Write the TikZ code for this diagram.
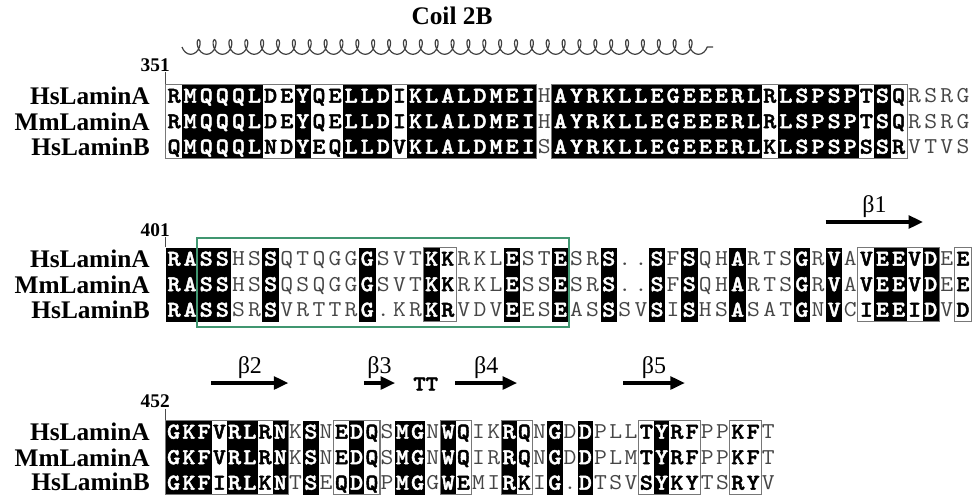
\documentclass[tikz,border=0pt]{standalone}
\usepackage{fontspec}
\setmainfont{Liberation Serif}
\newfontfamily\seqrm{Latin Modern Mono}[FakeStretch=1.1]
\newfontfamily\seqbf{lmmonolt10-bold.otf}[FakeBold=2, FakeStretch=1.1]
\usetikzlibrary{arrows.meta,decorations.pathmorphing}

\definecolor{boxgreen}{RGB}{64,150,112}
\definecolor{framegray}{RGB}{120,120,120}
\definecolor{resgray}{RGB}{70,70,70}

\tikzset{
  title/.style={font=\fontsize{19}{20}\selectfont\bfseries, inner sep=0pt},
  seqname/.style={anchor=east, font=\fontsize{19}{20}\selectfont\bfseries, inner sep=0pt},
  resnum/.style={anchor=base east, font=\fontsize{14.5}{15}\selectfont\bfseries, inner sep=0pt},
  cell b/.style={fill=black, draw=none, inner sep=0pt, minimum height=55.5pt},
  cell w/.style={draw=none, inner sep=0pt, minimum height=55.5pt},
  cell p/.style={draw=none, inner sep=0pt, minimum height=55.5pt},
  res/.style={inner sep=0pt, text height=10pt, text depth=0pt, anchor=center},
  res b/.style={res, text=white, font=\fontsize{17}{18}\seqbf},
  res w/.style={res, text=black, font=\fontsize{17}{18}\seqbf},
  res p/.style={res, text=resgray, font=\fontsize{17}{18}\seqrm},
  frame/.style={draw=framegray, line width=0.8pt},
  tick/.style={draw=black!70, line width=0.9pt},
  greenbox/.style={draw=boxgreen, line width=1.5pt},
  helix/.style={draw=black!75, line width=0.9pt, decorate,
    decoration={coil, mirror, amplitude=5.5pt, segment length=11.9pt, aspect=0.65,
      pre length=0pt, post length=0pt}},
  strand/.style={line width=3.2pt, -{Triangle[length=11pt,width=9.5pt]}},
  sslabel/.style={anchor=base, inner sep=0pt, font=\fontsize{18}{18}\selectfont},
  turn/.style={inner sep=0pt, font=\fontsize{16}{16}\seqbf}
}

% #1 first row y, #2 column width, #3 block tag, #4 columns type/A/M/B
\newcommand{\seqblock}[4]{%
  \foreach \t/\a/\m/\b [count=\i] in {#4} {
    \pgfmathsetmacro{\cx}{166+(\i-0.5)*#2}
    \node[cell \t, minimum width=#2*0.75pt+0.3pt] (#3-\i) at (\cx,#1+25.5) {};
    \node[res \t] (#3-\i-hsa) at (\cx,#1) {\a};
    \node[res \t] (#3-\i-mma) at (\cx,#1+25.5) {\m};
    \node[res \t] (#3-\i-hsb) at (\cx,#1+51) {\b};
  }
}

\begin{document}
\begin{tikzpicture}[x=0.75pt,y=-0.75pt]
\useasboundingbox (0,0) rectangle (973,497);

\node[title] (coil) at (452,16) {Coil 2B};
\draw[helix] (182,47) -- (713,47);

% residues 351-400
\seqblock{96}{16.1}{b1}{w/R/R/Q, b/M/M/M, b/Q/Q/Q, b/Q/Q/Q, b/Q/Q/Q, b/L/L/L, w/D/D/N, w/E/E/D, b/Y/Y/Y, w/Q/Q/E,
  w/E/E/Q, b/L/L/L, b/L/L/L, b/D/D/D, w/I/I/V, b/K/K/K, b/L/L/L, b/A/A/A, b/L/L/L, b/D/D/D,
  b/M/M/M, b/E/E/E, b/I/I/I, p/H/H/S, b/A/A/A, b/Y/Y/Y, b/R/R/R, b/K/K/K, b/L/L/L, b/L/L/L,
  b/E/E/E, b/G/G/G, b/E/E/E, b/E/E/E, b/E/E/E, b/R/R/R, b/L/L/L, w/R/R/K, b/L/L/L, b/S/S/S,
  b/P/P/P, b/S/S/S, b/P/P/P, w/T/T/S, b/S/S/S, w/Q/Q/R, p/R/R/V, p/S/S/T, p/R/R/V, p/G/G/S}
\draw[frame] (b1-1.north west) rectangle (b1-23.south east);
\draw[frame] (b1-25.north west) rectangle (b1-46.south east);
\node[resnum] (n351) at (170,71) {351};
\draw[tick] (b1-1.north west) -- ++(0,-12);
\node[seqname] (hsa1) at (150,96) {HsLaminA};
\node[seqname] (mma1) at (150,121.5) {MmLaminA};
\node[seqname] (hsb1) at (150,147) {HsLaminB};

% residues 401-
\seqblock{259}{16.1}{b2}{b/R/R/R, b/A/A/A, b/S/S/S, b/S/S/S, p/H/H/S, p/S/S/R, b/S/S/S, p/Q/Q/V, p/T/S/R, p/Q/Q/T,
  p/G/G/T, p/G/G/R, b/G/G/G, p/S/S/., p/V/V/K, p/T/T/R, b/K/K/K, w/K/K/R, p/R/R/V, p/K/K/D,
  p/L/L/V, b/E/E/E, p/S/S/E, p/T/S/S, b/E/E/E, p/S/S/A, p/R/R/S, b/S/S/S, p/./ ./S, p/./ ./V,
  b/S/S/S, p/F/F/I, b/S/S/S, p/Q/Q/H, p/H/H/S, b/A/A/A, p/R/R/S, p/T/T/A, p/S/S/T, b/G/G/G,
  p/R/R/N, b/V/V/V, p/A/A/C, w/V/V/I, b/E/E/E, b/E/E/E, w/V/V/I, b/D/D/D, p/E/E/V, w/E/E/D}
\draw[frame] (b2-17.north west) rectangle (b2-18.south east);
\draw[frame] (b2-44.north west) rectangle (b2-48.south east);
\draw[frame] (b2-50.north west) rectangle (b2-50.south east);
\node[resnum] (n401) at (170,236) {401};
\draw[tick] (b2-1.north west) -- ++(0,-10);
\node[seqname] (hsa2) at (150,259) {HsLaminA};
\node[seqname] (mma2) at (150,284.5) {MmLaminA};
\node[seqname] (hsb2) at (150,310) {HsLaminB};
\draw[greenbox] (197,238) rectangle (568.5,327);
\draw[strand] (b2-42.west |- 0,222) -- (b2-47.east |- 0,222)
  node[sslabel, midway, yshift=7pt] (beta1) {β1};

% residues 452-
\seqblock{432}{15.25}{b3}{b/G/G/G, b/K/K/K, b/F/F/F, w/V/V/I, b/R/R/R, b/L/L/L, w/R/R/K, b/N/N/N, p/K/K/T, b/S/S/S,
  p/N/N/E, w/E/E/Q, b/D/D/D, w/Q/Q/Q, p/S/S/P, b/M/M/M, b/G/G/G, p/N/N/G, b/W/W/W, w/Q/Q/E,
  p/I/I/M, p/K/R/I, b/R/R/R, w/Q/Q/K, p/N/N/I, b/G/G/G, p/D/D/., b/D/D/D, p/P/P/T, p/L/L/S,
  p/L/M/V, w/T/T/S, b/Y/Y/Y, w/R/R/K, w/F/F/Y, p/P/P/T, p/P/P/S, w/K/K/R, w/F/F/Y, p/T/T/V}
\draw[frame] (b3-1.north west) rectangle (b3-8.south east);
\draw[frame] (b3-12.north west) rectangle (b3-14.south east);
\draw[frame] (b3-19.north west) rectangle (b3-20.south east);
\draw[frame] (b3-23.north west) rectangle (b3-24.south east);
\draw[frame] (b3-32.north west) rectangle (b3-35.south east);
\draw[frame] (b3-38.north west) rectangle (b3-39.south east);
\node[resnum] (n452) at (170,407) {452};
\draw[tick] (b3-1.north west) -- ++(0,-11);
\node[seqname] (hsa3) at (150,432) {HsLaminA};
\node[seqname] (mma3) at (150,457.5) {MmLaminA};
\node[seqname] (hsb3) at (150,482) {HsLaminB};
\draw[strand] (b3-4.west |- 0,383) -- (b3-8.east |- 0,383)
  node[sslabel, midway, yshift=7pt] (beta2) {β2};
\draw[strand] (b3-14.west |- 0,383) -- (b3-15.east |- 0,383)
  node[sslabel, midway, yshift=7pt] (beta3) {β3};
\node[turn] (tt) at (b3-17.east |- 0,384) {TT};
\draw[strand] (b3-20.west |- 0,383) -- (b3-23.east |- 0,383)
  node[sslabel, midway, yshift=7pt] (beta4) {β4};
\draw[strand] (b3-31.west |- 0,383) -- (b3-34.east |- 0,383)
  node[sslabel, midway, yshift=7pt] (beta5) {β5};
\end{tikzpicture}
\end{document}
